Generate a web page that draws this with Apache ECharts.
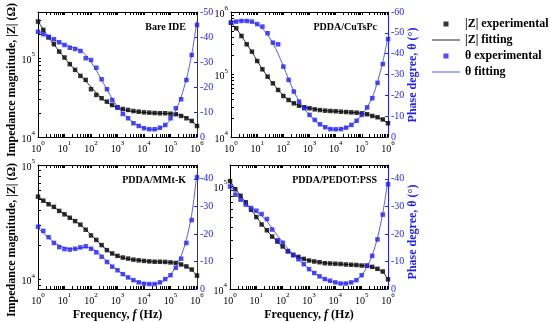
<!DOCTYPE html>
<html><head><meta charset="utf-8">
<script src="https://cdn.jsdelivr.net/npm/echarts@6/dist/echarts.min.js"></script>
<style>html,body{margin:0;padding:0;background:#fff}#c{width:550px;height:322px}</style>
</head><body><div id="c"></div>
<script>
// Frequencies (Hz)
const freq = [1, 1.585, 2.512, 3.981, 6.31, 10, 15.85, 25.12, 39.81, 63.1, 100, 158.5, 251.2, 398.1, 631, 1000, 1585, 2512, 3981, 6310, 10000, 15850, 25120, 39810, 63100, 100000, 158500, 251200, 398100, 631000, 1000000];

// Bare IDE
const bareZExp = [288000, 226000, 181000, 149000, 120000, 101000, 83200, 70500, 59200, 52700, 40200, 34000, 30900, 28000, 25400, 23800, 22600, 22000, 21300, 20900, 20500, 20300, 20100, 19950, 19950, 19700, 19400, 18450, 17260, 15960, 13770];
const bareZFit = [290000, 228000, 182000, 148000, 121000, 100000, 84000, 70500, 60000, 51000, 43000, 36000, 31000, 27500, 25000, 23400, 22300, 21500, 21000, 20700, 20400, 20200, 20050, 19950, 19850, 19700, 19400, 18700, 17500, 15900, 13800];
const bareThExp = [-42.1, -41.1, -40.1, -39.1, -37.9, -36.8, -35.7, -35.2, -34.4, -31.5, -30.8, -27.7, -23.1, -19.1, -14.8, -11.7, -9.2, -7.5, -5.5, -4.4, -3.5, -3.1, -3.1, -3.7, -4.8, -7.5, -11.5, -15.1, -22.8, -32.8, -44.8];
const bareThFit = [-42.5, -41.2, -40.0, -38.9, -37.8, -36.9, -36.2, -35.6, -34.6, -32.8, -30.0, -26.6, -22.9, -19.0, -15.3, -12.2, -9.6, -7.5, -5.8, -4.5, -3.6, -3.1, -3.0, -3.5, -4.7, -7.0, -10.6, -16.0, -23.2, -33.0, -46.5];

// PDDA/CuTsPc
const cuZExp = [674500, 548000, 413000, 304000, 232000, 164400, 121100, 92300, 72300, 56500, 45300, 39100, 34600, 31700, 29900, 28800, 27700, 27000, 26400, 26100, 25800, 25400, 25100, 24800, 24500, 23900, 23100, 21700, 20700, 19100, 16600];
const cuZFit = [680000, 545000, 415000, 306000, 230000, 166000, 122000, 92000, 72000, 57000, 46000, 39000, 34700, 31800, 30000, 28800, 27800, 27000, 26400, 26000, 25700, 25400, 25100, 24800, 24400, 23900, 23000, 21800, 20500, 18900, 16600];
const cuThExp = [-54.9, -55.4, -55.7, -55.7, -55.4, -54.2, -53.0, -49.8, -45.3, -44.5, -33.8, -27.4, -21.8, -17.0, -13.8, -10.6, -8.2, -6.1, -4.7, -3.8, -3.7, -3.8, -4.5, -5.8, -7.8, -10.6, -14.2, -18.6, -26.0, -35.0, -47.0];
const cuThFit = [-55.0, -55.6, -55.9, -55.8, -55.2, -54.0, -52.0, -49.0, -45.0, -40.0, -34.0, -27.8, -22.0, -17.2, -13.5, -10.5, -8.0, -6.0, -4.7, -3.9, -3.6, -3.8, -4.5, -5.8, -7.8, -10.6, -14.2, -19.0, -26.5, -36.0, -48.0];

// PDDA/MMt-K
const mmtZExp = [52970, 48870, 45500, 43150, 39800, 37150, 34670, 32430, 30200, 27290, 24320, 22230, 20040, 18110, 16940, 16140, 15600, 15280, 14960, 14760, 14590, 14450, 14350, 14350, 14290, 14160, 14000, 13580, 13060, 12270, 10860];
const mmtZFit = [53500, 49200, 45700, 42800, 40000, 37300, 34800, 32400, 30000, 27400, 24600, 22100, 20000, 18200, 16900, 16100, 15550, 15200, 14950, 14750, 14600, 14450, 14370, 14320, 14250, 14150, 13950, 13600, 13000, 12200, 10800];
const mmtThExp = [-22.6, -21.1, -18.8, -16.7, -15.2, -14.5, -14.3, -14.6, -15.1, -15.5, -14.6, -13.3, -11.7, -9.8, -8.1, -6.8, -5.4, -4.2, -3.2, -2.4, -1.9, -1.8, -1.8, -2.4, -3.6, -5.0, -7.7, -11.0, -16.7, -25.0, -40.5];
const mmtThFit = [-22.0, -20.3, -18.6, -17.0, -15.8, -15.0, -14.6, -14.6, -14.9, -15.1, -14.8, -13.7, -12.0, -10.1, -8.3, -6.8, -5.4, -4.2, -3.2, -2.5, -2.0, -1.8, -1.8, -2.3, -3.4, -5.2, -8.0, -12.0, -18.0, -27.0, -42.0];

// PDDA/PEDOT:PSS
const pedZExp = [111700, 93100, 80400, 69500, 58700, 50000, 42300, 37200, 32300, 28900, 25900, 23200, 21500, 20500, 19600, 18900, 18500, 18200, 17800, 17700, 17600, 17500, 17300, 17200, 17100, 16900, 16800, 16400, 15700, 14800, 12400];
const pedZFit = [112000, 94000, 80500, 69000, 58800, 50200, 43000, 37200, 32400, 28700, 25700, 23300, 21600, 20400, 19600, 19000, 18500, 18200, 17900, 17700, 17550, 17450, 17300, 17200, 17100, 16950, 16700, 16300, 15600, 14600, 12500];
const pedThExp = [-37.2, -34.2, -32.4, -30.6, -29.4, -28.4, -27.2, -25.4, -21.6, -17.7, -16.8, -13.8, -12.2, -10.8, -9.0, -7.2, -5.8, -4.6, -3.6, -3.0, -2.4, -2.0, -2.0, -2.4, -3.2, -5.0, -8.5, -12.0, -18.0, -27.0, -38.0];
const pedThFit = [-38.0, -35.0, -32.6, -30.8, -29.3, -28.0, -26.6, -24.6, -22.0, -19.4, -16.9, -14.6, -12.6, -10.8, -9.0, -7.3, -5.8, -4.6, -3.6, -2.9, -2.4, -2.0, -2.0, -2.4, -3.3, -5.0, -8.0, -12.3, -18.5, -27.5, -39.5];

const xTickLabels = [1, 10, 100, 1000, 10000, 100000, 1000000];
const panelTitles = ['Bare IDE', 'PDDA/CuTsPc', 'PDDA/MMt-K', 'PDDA/PEDOT:PSS'];
const legendNames = ['|Z| experimental', '|Z| fitting', 'θ experimental', 'θ fitting'];
const zAxisRanges = [[10000, 380000], [10000, 1000000], [8300, 100000], [10000, 160000]];
const thAxisMin = [-50, -60, -45, -45];
const xTitle = 'Frequency, {i|f} (Hz)';
const yLeftTitle = 'Impedance magnitude, |Z| (Ω)';
const yRightTitle = 'Phase degree, θ (°)';

const panels = [
  [bareZExp, bareZFit, bareThExp, bareThFit],
  [cuZExp, cuZFit, cuThExp, cuThFit],
  [mmtZExp, mmtZFit, mmtThExp, mmtThFit],
  [pedZExp, pedZFit, pedThExp, pedThFit]
];

const FONT = 'Liberation Serif';
const BLUE = '#1e1eff';
const BLUE_LINE = '#5a5aff';
const grids = [
  {left: 38, top: 12, width: 159, height: 125},
  {left: 231, top: 12, width: 157, height: 125},
  {left: 38, top: 165, width: 159, height: 125},
  {left: 230, top: 165, width: 158, height: 125}
];

function logMinor(min, max) {
  const out = [];
  for (let e = 0; e <= 7; e++) for (let m = 1; m <= 9; m++) {
    const v = m * Math.pow(10, e);
    if (v >= min * 0.999 && v <= max * 1.001) out.push(v);
  }
  return out;
}
function powers(min, max) { return xTickLabels.concat([1e7]).filter(v => v >= min * 0.999 && v <= max * 1.001); }
const supRich = {
  b: {fontFamily: FONT, fontSize: 10, color: '#000', lineHeight: 14, verticalAlign: 'bottom'},
  s: {fontFamily: FONT, fontSize: 7, color: '#000', lineHeight: 9, verticalAlign: 'top'}
};
function supFmt(v) {
  const e = Math.log10(v);
  if (Math.abs(e - Math.round(e)) > 0.01) return '';
  return '{b|10}{s|' + Math.round(e) + '}';
}

const xAxis = [], yAxis = [], series = [], title = [];
grids.forEach((g, i) => {
  xAxis.push({
    gridIndex: i, type: 'log', logBase: 10, min: 1, max: 1e6, position: 'bottom',
    axisLine: {lineStyle: {color: '#000', width: 1}},
    axisTick: {inside: true, length: 3, customValues: logMinor(1, 1e6), lineStyle: {color: '#000'}},
    axisLabel: {customValues: xTickLabels, formatter: supFmt, rich: supRich, margin: 3},
    splitLine: {show: false},
    name: i >= 2 ? xTitle : '', nameLocation: 'middle', nameGap: 20,
    nameTextStyle: {fontFamily: FONT, fontWeight: 'bold', fontSize: 12, color: '#000',
      rich: {i: {fontFamily: FONT, fontWeight: 'bold', fontStyle: 'italic', fontSize: 12, color: '#000'}}}
  });
  xAxis.push({
    gridIndex: i, type: 'log', logBase: 10, min: 1, max: 1e6, position: 'top',
    axisLine: {lineStyle: {color: '#000', width: 1}},
    axisTick: {inside: true, length: 3, customValues: logMinor(1, 1e6), lineStyle: {color: '#000'}},
    axisLabel: {show: false}, splitLine: {show: false}
  });
  const [zmin, zmax] = zAxisRanges[i];
  yAxis.push({
    gridIndex: i, type: 'log', logBase: 10, min: zmin, max: zmax, position: 'left',
    axisLine: {show: true, lineStyle: {color: '#000', width: 1}},
    axisTick: {show: true, inside: true, length: 3, customValues: logMinor(zmin, zmax), lineStyle: {color: '#000'}},
    axisLabel: {customValues: powers(zmin, zmax), formatter: supFmt, rich: supRich, margin: 3},
    splitLine: {show: false}
  });
  yAxis.push({
    gridIndex: i, type: 'value', min: thAxisMin[i], max: 0, inverse: true, position: 'right',
    axisLine: {show: true, lineStyle: {color: BLUE, width: 1}},
    axisTick: {show: true, inside: true, length: 3, lineStyle: {color: BLUE}},
    axisLabel: {color: BLUE, fontFamily: FONT, fontSize: 10, margin: 3, showMinLabel: thAxisMin[i] % 10 === 0},
    splitLine: {show: false}
  });
  const [zExp, zFit, thExp, thFit] = panels[i];
  const pair = arr => arr.map((v, k) => [freq[k], v]);
  series.push({name: legendNames[1], type: 'line', xAxisIndex: 2 * i, yAxisIndex: 2 * i, data: pair(zFit),
    symbol: 'none', smooth: 0.3, lineStyle: {color: '#333', width: 1}, itemStyle: {color: '#222'}, z: 2, silent: true});
  series.push({name: legendNames[0], type: 'scatter', xAxisIndex: 2 * i, yAxisIndex: 2 * i, data: pair(zExp),
    symbol: 'rect', symbolSize: 4.5, itemStyle: {color: '#000'}, z: 3, silent: true});
  series.push({name: legendNames[3], type: 'line', xAxisIndex: 2 * i, yAxisIndex: 2 * i + 1, data: pair(thFit),
    symbol: 'none', smooth: 0.3, lineStyle: {color: BLUE_LINE, width: 1}, itemStyle: {color: BLUE_LINE}, z: 4, silent: true});
  series.push({name: legendNames[2], type: 'scatter', xAxisIndex: 2 * i, yAxisIndex: 2 * i + 1, data: pair(thExp),
    symbol: 'rect', symbolSize: 4.5, itemStyle: {color: BLUE}, z: 5, silent: true});
  title.push({text: panelTitles[i], right: 550 - (g.left + g.width) + 6, top: g.top + 5,
    textStyle: {fontFamily: FONT, fontWeight: 'bold', fontSize: 10, color: '#000'}});
});

const titleFont = 'bold 12px "' + FONT + '"';
const graphic = [
  {type: 'text', x: 12, y: 80, rotation: Math.PI / 2, style: {text: yLeftTitle, font: titleFont, fill: '#000', align: 'center', verticalAlign: 'middle'}},
  {type: 'text', x: 12, y: 240, rotation: Math.PI / 2, style: {text: yLeftTitle, font: titleFont, fill: '#000', align: 'center', verticalAlign: 'middle'}},
  {type: 'text', x: 413, y: 75, rotation: Math.PI / 2, style: {text: yRightTitle, font: titleFont, fill: BLUE, align: 'center', verticalAlign: 'middle'}},
  {type: 'text', x: 413, y: 232, rotation: Math.PI / 2, style: {text: yRightTitle, font: titleFont, fill: BLUE, align: 'center', verticalAlign: 'middle'}}
];

// legend icons: 28x5 boxes (small centred square / thin line)
const squareIcon = 'path://M0,0 M28,5 M11.5,0 L16.5,0 L16.5,5 L11.5,5 Z';
const lineIcon = 'path://M0,0 M28,5 M0,2 L28,2 L28,3 L0,3 Z';

const chart = echarts.init(document.getElementById('c'), null, {renderer: 'canvas'});
chart.setOption({
  animation: false,
  backgroundColor: '#fff',
  title: title,
  grid: grids.map(g => Object.assign({containLabel: false}, g)),
  xAxis: xAxis, yAxis: yAxis, series: series,
  legend: {
    data: [
      {name: legendNames[0], icon: squareIcon},
      {name: legendNames[1], icon: lineIcon},
      {name: legendNames[2], icon: squareIcon},
      {name: legendNames[3], icon: lineIcon}
    ],
    orient: 'vertical', left: 427, top: 13, itemWidth: 28, itemHeight: 5, itemGap: 4,
    selectedMode: false, symbolKeepAspect: false,
    textStyle: {fontFamily: FONT, fontWeight: 'bold', fontSize: 12, color: '#000'}
  },
  graphic: graphic
});
</script></body></html>
